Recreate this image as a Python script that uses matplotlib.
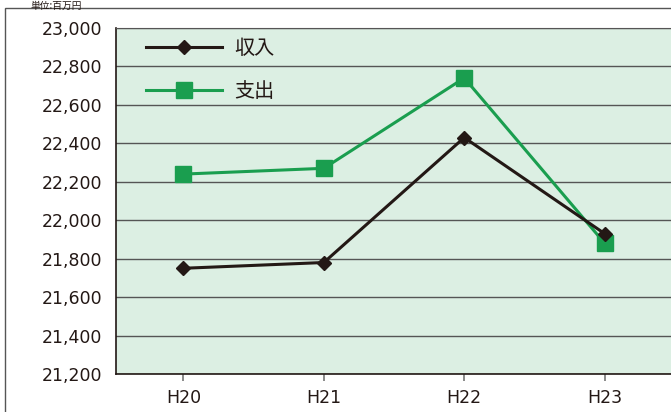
import matplotlib
matplotlib.use("Agg")
import matplotlib.pyplot as plt
from matplotlib.patches import Rectangle

plt.rcParams['font.family'] = ['DejaVu Sans', 'Noto Sans CJK JP']

# data
years = ["H20", "H21", "H22", "H23"]
income = [21750, 21780, 22430, 21930]
expense = [22240, 22270, 22740, 21880]
yticks = list(range(21200, 23001, 200))

fig = plt.figure(figsize=(6.71, 4.12), dpi=100)
fig.patches.append(Rectangle((5 / 671, -0.05), 1.0, 1 - 8 / 412 + 0.05,
                             transform=fig.transFigure, fill=False,
                             edgecolor="#555555", linewidth=1.0))
fig.text(30 / 671, 1.0 - 0.5 / 412, "単位:百万円", fontsize=7, va="top",
         family=['Noto Sans CJK JP', 'DejaVu Sans'], color="#231815")

ax = fig.add_axes([116 / 671, 1 - 374 / 412, 1 - 116 / 671 + 0.01, (374 - 28) / 412])
ax.set_facecolor("#dcefe3")

x = range(len(years))
ax.plot(x, income, color="#231815", marker="D", markersize=7, linewidth=2.2,
        label="収入", zorder=3)
ax.plot(x, expense, color="#1a9e4f", marker="s", markersize=12, linewidth=2.2,
        label="支出", zorder=2)

ax.set_ylim(21200, 23000)
ax.set_xlim(-0.48, 3.52)
ax.set_yticks(yticks)
ax.set_yticklabels([f"{v:,}" for v in yticks])
ax.set_xticks(list(x))
ax.set_xticklabels(years)
ax.grid(axis="y", color="#555555", linewidth=1.0)
ax.set_axisbelow(True)
ax.tick_params(axis="y", length=0, labelsize=12.5, pad=10, colors="#231815")
ax.tick_params(axis="x", length=5, direction="out", width=1.2, labelsize=12.5,
               pad=6, colors="#231815")
ax.tick_params(axis="x", color="#777777")
for side in ["left", "bottom"]:
    ax.spines[side].set_color("#231815")
    ax.spines[side].set_linewidth(1.2)
ax.spines["top"].set_color("#555555")
ax.spines["right"].set_visible(False)

leg = ax.legend(loc="upper left", bbox_to_anchor=(0.039, 0.994), frameon=False,
                handlelength=3.8, borderaxespad=0, labelspacing=1.1,
                handletextpad=0.6,
                prop={'family': ['Noto Sans CJK JP'], 'size': 14.5})
for txt in leg.get_texts():
    txt.set_color("#231815")

fig.savefig("out.png", dpi=100)
